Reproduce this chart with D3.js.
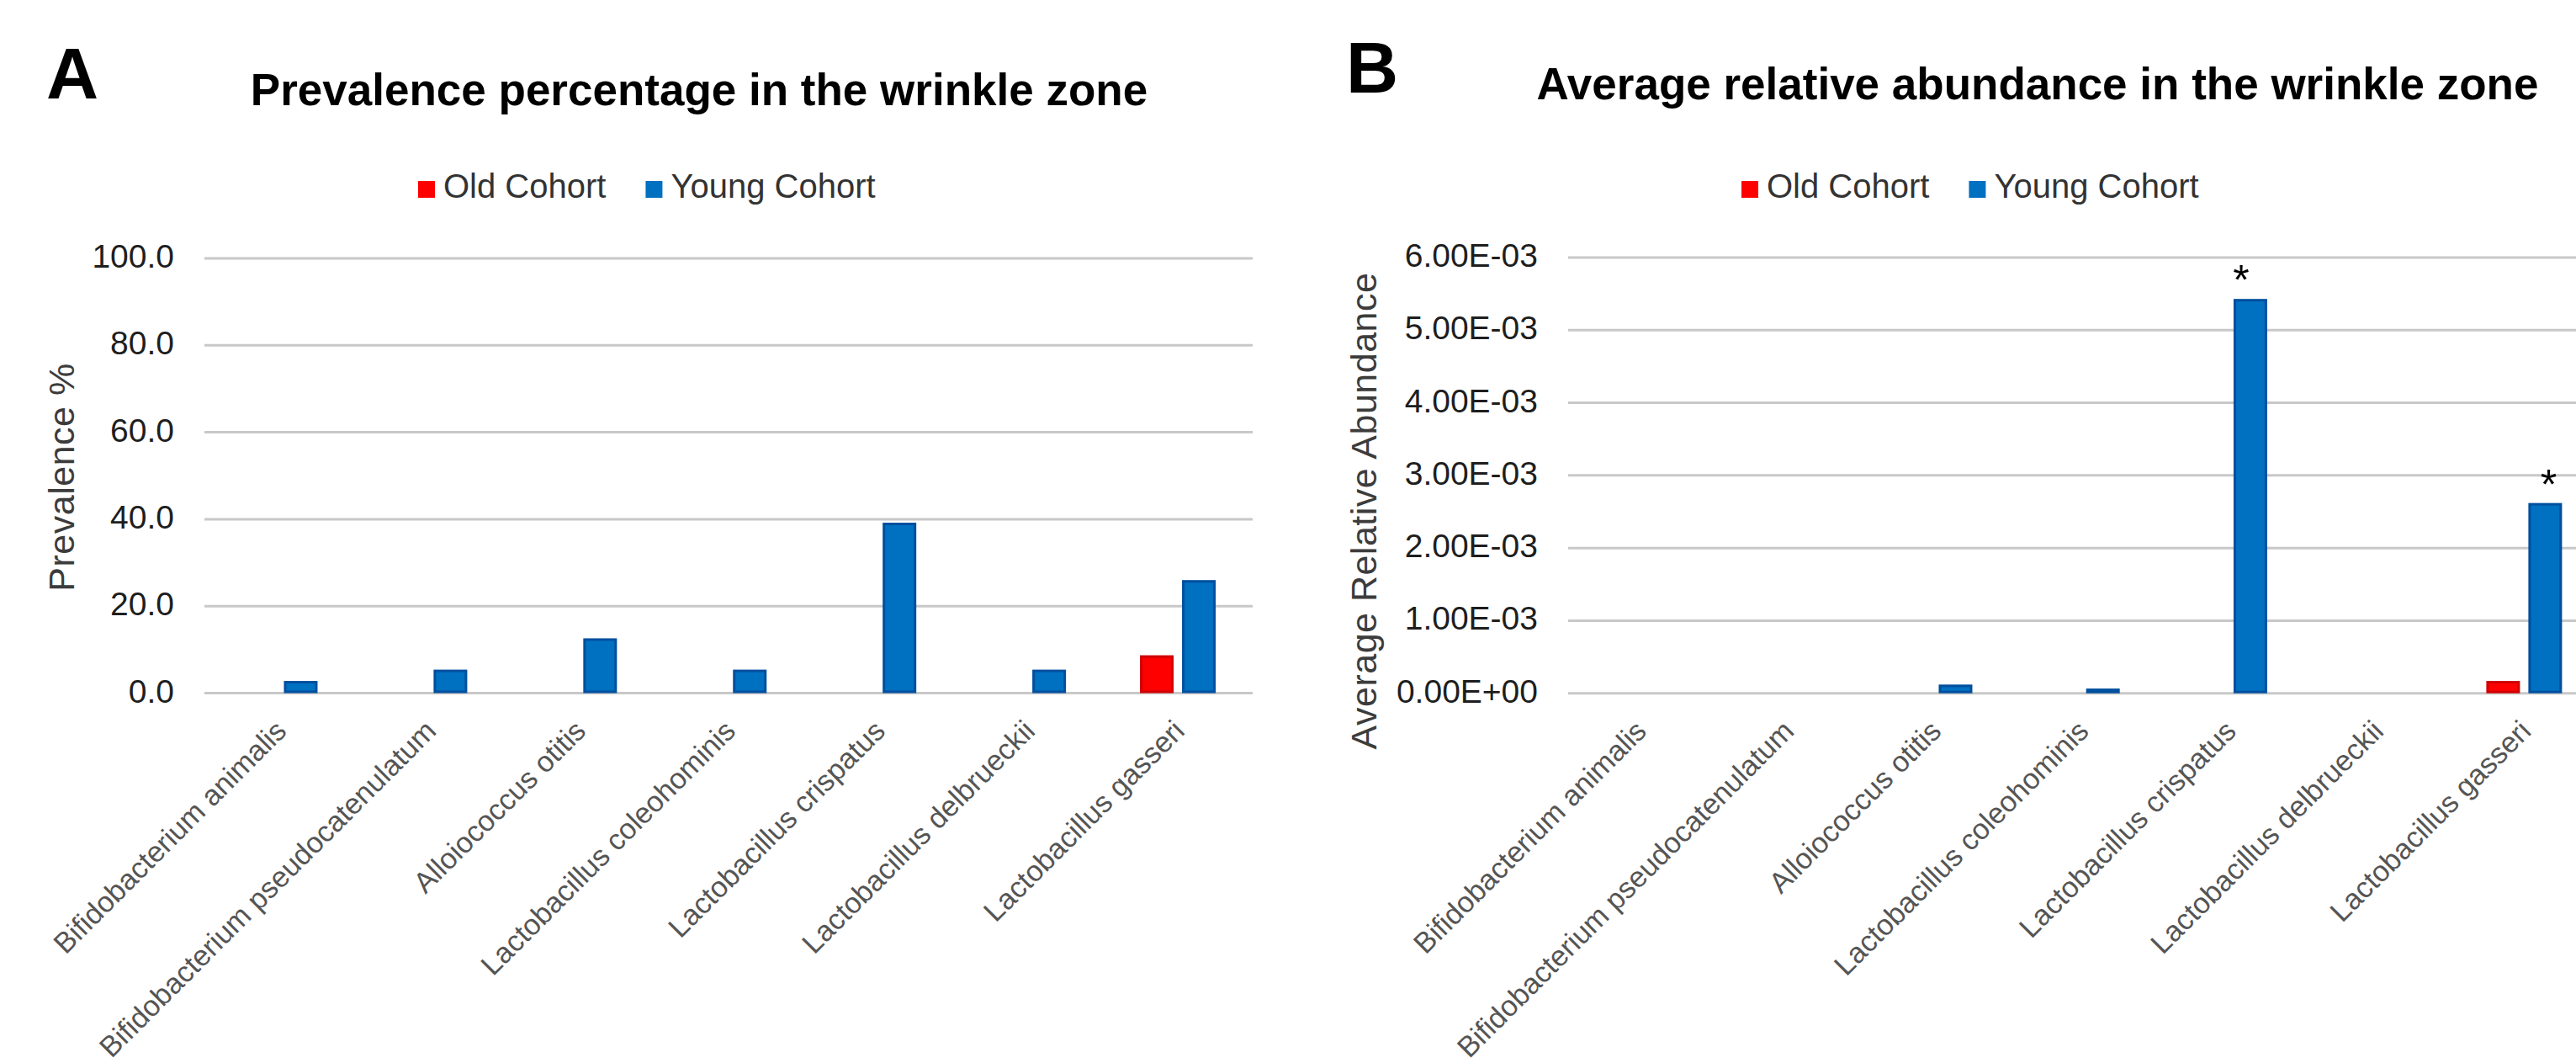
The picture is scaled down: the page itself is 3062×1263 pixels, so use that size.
<!DOCTYPE html>
<meta charset="utf-8">
<style>
    * {
        margin: 0px;
    }
    body {
        background: #fff;
    }
    text {
        font-family: "Liberation Sans", Arial, sans-serif;
    }
    .grid line {
        stroke: #c8c8c8;
        stroke-width: 3px;
    }
    .tick-label {
        font-size: 39px;
        fill: #1e1e1e;
    }
    .cat-label {
        font-size: 34.5px;
        fill: #555;
    }
    .axis-title {
        font-size: 43px;
        fill: #3c3c3c;
        letter-spacing: 0.5px;
    }
    .legend text {
        font-size: 40px;
        fill: #333;
    }
</style>
<svg width="3062" height="1263"></svg>
<script src="https://d3js.org/d3.v7.min.js"></script>
<script>
    // data
    var categories = ["Bifidobacterium animalis", "Bifidobacterium pseudocatenulatum", "Alloiococcus otitis",
        "Lactobacillus coleohominis", "Lactobacillus crispatus", "Lactobacillus delbrueckii", "Lactobacillus gasseri"];
    var series = ["Old Cohort", "Young Cohort"];

    var prevalenceOld = [0, 0, 0, 0, 0, 0, 8.7];
    var prevalenceYoung = [2.8, 5.4, 12.6, 5.4, 39.2, 5.4, 26.0];
    var prevalenceTicks = [0, 20, 40, 60, 80, 100];

    var abundanceOld = [0, 0, 0, 0, 0, 0, 1.7e-4];
    var abundanceYoung = [0, 0, 1.2e-4, 6.5e-5, 5.43e-3, 0, 2.62e-3];
    var abundanceTicks = [0, 1e-3, 2e-3, 3e-3, 4e-3, 5e-3, 6e-3];
    var abundanceStars = [4, 6]; // categories marked * (young cohort)

    var colors = {"Old Cohort": "#ff0000", "Young Cohort": "#0070c0"};
    var borders = {"Old Cohort": "#d00000", "Young Cohort": "#004f9f"};

    var svg = d3.select("svg");
    svg.append("rect").attr("width", 3062).attr("height", 1263).attr("fill", "#fff");

    function sciFormat(v) {
        var s = v.toExponential(2).split("e");
        var exp = +s[1];
        var sign = exp < 0 ? "-" : "+";
        exp = Math.abs(exp);
        return s[0] + "E" + sign + (exp < 10 ? "0" : "") + exp;
    }

    function drawPanel(p) {
        var g = svg.append("g");

        var x0 = d3.scaleBand().domain(categories).range(p.xRange);
        var x1 = d3.scaleBand().domain(series).range([-45, 45]).paddingInner(0.2);
        var y = d3.scaleLinear().domain([0, p.ticks[p.ticks.length - 1]]).range(p.yRange);

        // letter + title
        g.append("text").attr("x", p.letterX).attr("y", p.letterY)
            .attr("font-size", 86).attr("font-weight", "bold").text(p.letter);
        g.append("text").attr("x", p.titleX).attr("y", p.titleY)
            .attr("text-anchor", "middle").attr("font-size", 53).attr("font-weight", "bold")
            .text(p.title);

        // legend
        var legend = g.append("g").attr("class", "legend");
        var lx = p.legendX;
        series.forEach(function(s) {
            legend.append("rect").attr("x", lx).attr("y", 215).attr("width", 20).attr("height", 20)
                .attr("fill", colors[s]);
            var t = legend.append("text").attr("x", lx + 30).attr("y", 235).text(s);
            lx += 30 + t.node().getComputedTextLength() + 47;
        });

        // gridlines
        g.append("g").attr("class", "grid")
            .selectAll("line")
            .data(p.ticks)
            .enter().append("line")
            .attr("x1", p.gridX[0]).attr("x2", p.gridX[1])
            .attr("y1", function(d) { return y(d); })
            .attr("y2", function(d) { return y(d); });

        g.append("g").selectAll("text")
            .data(p.ticks)
            .enter().append("text")
            .attr("class", "tick-label")
            .attr("x", p.tickX)
            .attr("y", function(d) { return y(d) + 11; })
            .attr("text-anchor", "end")
            .text(p.format);

        // axis title
        g.append("text").attr("class", "axis-title")
            .attr("transform", "translate(" + p.yTitle[0] + "," + p.yTitle[1] + ") rotate(-90)")
            .attr("text-anchor", "middle")
            .text(p.yLabel);

        // bars
        var rows = [];
        categories.forEach(function(c, i) {
            rows.push({cat: c, series: "Old Cohort", value: p.old[i]});
            rows.push({cat: c, series: "Young Cohort", value: p.young[i]});
        });
        var bw = x1.bandwidth();
        g.append("g").selectAll("rect")
            .data(rows.filter(function(d) { return d.value > 0; }))
            .enter().append("rect")
            .attr("x", function(d) { return x0(d.cat) + x0.bandwidth() / 2 + x1(d.series) + 1.5; })
            .attr("y", function(d) { return y(d.value) + 1.5; })
            .attr("width", bw - 3)
            .attr("height", function(d) { return Math.max(0.5, y(0) - y(d.value) - 3); })
            .attr("fill", function(d) { return colors[d.series]; })
            .attr("stroke", function(d) { return borders[d.series]; })
            .attr("stroke-width", 3);

        // category labels
        g.append("g").selectAll("text")
            .data(categories)
            .enter().append("text")
            .attr("class", "cat-label")
            .attr("text-anchor", "end")
            .attr("transform", function(d) {
                return "translate(" + (x0(d) + x0.bandwidth() / 2 + 10) + "," + (y(0) + 47) + ") rotate(-45)";
            })
            .text(function(d) { return d; });

        // significance marks
        if (p.stars) {
            g.append("g").selectAll("text")
                .data(p.stars)
                .enter().append("text")
                .attr("x", function(d, i) {
                    return x0(categories[d]) + x0.bandwidth() / 2 + x1("Young Cohort") + bw / 2 + p.starDx[i];
                })
                .attr("y", function(d) { return y(p.young[d]) - 5; })
                .attr("text-anchor", "middle")
                .attr("font-size", 50)
                .text("*");
        }
    }

    drawPanel({
        letter: "A", letterX: 55, letterY: 117,
        title: "Prevalence percentage in the wrinkle zone", titleX: 831, titleY: 125,
        legendX: 497,
        xRange: [243.5, 1489], gridX: [243, 1489], yRange: [823.5, 307],
        ticks: prevalenceTicks, format: d3.format(".1f"), tickX: 207,
        yLabel: "Prevalence %", yTitle: [88, 567],
        old: prevalenceOld, young: prevalenceYoung
    });

    drawPanel({
        letter: "B", letterX: 1600, letterY: 110,
        title: "Average relative abundance in the wrinkle zone", titleX: 2422, titleY: 118,
        legendX: 2070,
        xRange: [1861.4, 3088], gridX: [1864, 3090], yRange: [823.7, 306],
        ticks: abundanceTicks, format: sciFormat, tickX: 1828,
        yLabel: "Average Relative Abundance", yTitle: [1636, 607],
        old: abundanceOld, young: abundanceYoung,
        stars: abundanceStars, starDx: [-11, 4]
    });
</script>
